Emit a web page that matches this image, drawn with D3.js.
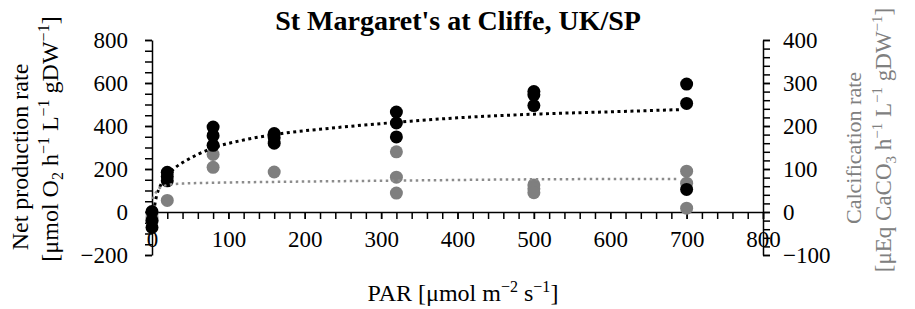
<!DOCTYPE html>
<html>
<head>
<meta charset="utf-8">
<script src="https://cdn.jsdelivr.net/npm/d3@7"></script>
<style>
body { margin: 0; background: #fff; }
svg, svg text { font-family: "Liberation Serif", "Times New Roman", serif; }
.axis path, .axis line { stroke: #000; stroke-width: 1.5; }
.axis text { font-family: "Liberation Serif", "Times New Roman", serif !important; font-size: 23px; fill: #000; }
</style>
</head>
<body>
<script>
const width = 915;
const height = 309;

const par = [0, 20, 80, 160, 320, 500, 700];
const netProd = [ // left axis, black
	[-72, -40, 2],
	[185, 165, 145],
	[395, 355, 310],
	[365, 345, 320],
	[465, 414, 349],
	[560, 545, 495],
	[595, 505, 105]
];
const calc = [ // right axis, grey
	[-22, -14, -4],
	[27],
	[134, 104],
	[93],
	[140, 81, 44],
	[63, 54, 45],
	[95, 67, 9]
];

// dotted trend lines
const netTrendX = [1, 3, 6, 10, 15, 20, 30, 45, 60, 80, 120, 160, 240, 320, 400, 500, 600, 690];
const netTrendY = [-30, 20, 75, 115, 150, 170, 205, 240, 268, 298, 335, 360, 392, 417, 438, 455, 466, 476];
const calcTrendX = [1, 5, 8, 13, 20, 40, 80, 160, 320, 500, 690];
const calcTrendY = [30, 45, 53, 58, 63, 66, 68, 70, 73, 76, 77];

const xTicks = [0, 100, 200, 300, 400, 500, 600, 700, 800];
const yLeftTicks = [-200, 0, 200, 400, 600, 800];
const yRightTicks = [-100, 0, 100, 200, 300, 400];

const svg = d3.select("body").append("svg")
	.attr("width", width)
	.attr("height", height);

let x = d3.scaleLinear().domain([0, 800]).range([152, 763]);
let yL = d3.scaleLinear().domain([-200, 800]).range([255, 40]);
let yR = d3.scaleLinear().domain([-100, 400]).range([255, 40]);

let fmt = d => d < 0 ? "\u2212" + Math.abs(d) : d;

function styleAxis(g) {
	g.attr("font-family", null).attr("font-size", null);
	g.selectAll("text")
		.style("font-family", "'Liberation Serif', 'Times New Roman', serif")
		.style("font-size", "23px")
		.attr("fill", "#000");
}

// left axis
svg.append("g").attr("class", "axis")
	.attr("transform", "translate(152,0)")
	.call(d3.axisLeft(yL).tickValues(d3.range(-200, 801, 50)).tickSize(7).tickSizeOuter(0).tickFormat(""));
svg.append("g").attr("class", "axis")
	.attr("transform", "translate(152,0)")
	.call(d3.axisLeft(yL).tickValues(yLeftTicks).tickSize(7).tickSizeOuter(0).tickPadding(17).tickFormat(fmt))
	.call(styleAxis)
	.select(".domain").remove();

// right axis
svg.append("g").attr("class", "axis")
	.attr("transform", "translate(763,0)")
	.call(d3.axisRight(yR).tickValues(d3.range(-100, 401, 20)).tickSize(7).tickSizeOuter(0).tickFormat(""));
svg.append("g").attr("class", "axis")
	.attr("transform", "translate(763,0)")
	.call(d3.axisRight(yR).tickValues(yRightTicks).tickSize(7).tickSizeOuter(0).tickPadding(13).tickFormat(fmt))
	.call(styleAxis)
	.select(".domain").remove();

// x axis sits on zero
svg.append("g").attr("class", "axis")
	.attr("transform", "translate(0," + yL(0) + ")")
	.call(d3.axisBottom(x).tickValues(d3.range(0, 801, 20)).tickSize(7).tickSizeOuter(0).tickFormat(""));
svg.append("g").attr("class", "axis")
	.attr("transform", "translate(0," + yL(0) + ")")
	.call(d3.axisBottom(x).tickValues(xTicks).tickSize(7).tickSizeOuter(0).tickPadding(12))
	.call(styleAxis)
	.select(".domain").remove();

// points
let calcPts = [];
calc.forEach((vals, i) => vals.forEach(v => calcPts.push([par[i], v])));
let netPts = [];
netProd.forEach((vals, i) => vals.forEach(v => netPts.push([par[i], v])));

svg.append("g").selectAll("circle")
	.data(calcPts).enter().append("circle")
	.attr("cx", d => x(d[0]))
	.attr("cy", d => yR(d[1]))
	.attr("r", 6.5)
	.attr("fill", "#7f7f7f");

svg.append("g").selectAll("circle")
	.data(netPts).enter().append("circle")
	.attr("cx", d => x(d[0]))
	.attr("cy", d => yL(d[1]))
	.attr("r", 6.5)
	.attr("fill", "#000");

// trend lines
let line = d3.line().curve(d3.curveMonotoneX);
svg.append("path")
	.attr("d", line(netTrendX.map((v, i) => [x(v), yL(netTrendY[i])])))
	.attr("fill", "none")
	.attr("stroke", "#000")
	.attr("stroke-width", 3)
	.attr("stroke-dasharray", "3,3.5");
svg.append("path")
	.attr("d", line(calcTrendX.map((v, i) => [x(v), yR(calcTrendY[i])])))
	.attr("fill", "none")
	.attr("stroke", "#8c8c8c")
	.attr("stroke-width", 2.5)
	.attr("stroke-dasharray", "2.5,3.5");

// title
svg.append("text")
	.attr("x", 458).attr("y", 30)
	.attr("text-anchor", "middle")
	.style("font-size", "28px").style("font-weight", "bold")
	.text("St Margaret's at Cliffe, UK/SP");

// x title
let xt = svg.append("text")
	.attr("x", 463).attr("y", 301)
	.attr("text-anchor", "middle")
	.style("font-size", "24px");
xt.append("tspan").text("PAR [\u03bcmol m");
xt.append("tspan").attr("dy", -9).style("font-size", "16px").text("\u22122");
xt.append("tspan").attr("dy", 9).text(" s");
xt.append("tspan").attr("dy", -9).style("font-size", "16px").text("\u22121");
xt.append("tspan").attr("dy", 9).text("]");

function unitLabel(t, parts) {
	parts.forEach(p => {
		let s = t.append("tspan").text(p[0]);
		if (p[1]) s.attr("dy", p[1]);
		if (p[2]) s.style("font-size", p[2]);
	});
}

// left y title
svg.append("text")
	.attr("transform", "translate(28,157) rotate(-90)")
	.attr("text-anchor", "middle")
	.style("font-size", "24px")
	.text("Net production rate");
unitLabel(svg.append("text")
	.attr("transform", "translate(58,139) rotate(-90)")
	.attr("text-anchor", "middle")
	.style("font-size", "24px"),
	[["[\u03bcmol O"], ["2", 5, "16px"], [" h", -5], ["\u22121", -9, "16px"], [" L", 9],
	 ["\u22121", -9, "16px"], [" gDW", 9], ["\u22121", -9, "16px"], ["]", 9]]);

// right y title
svg.append("text")
	.attr("transform", "translate(861,148) rotate(-90)")
	.attr("text-anchor", "middle")
	.style("font-size", "22px").style("fill", "#808080")
	.text("Calcification rate");
unitLabel(svg.append("text")
	.attr("transform", "translate(891,140) rotate(-90)")
	.attr("text-anchor", "middle")
	.style("font-size", "23px").style("fill", "#808080"),
	[["[\u03bcEq CaCO"], ["3", 5, "15px"], [" h", -5], ["\u22121", -9, "15px"], [" L", 9],
	 ["\u22121", -9, "15px"], [" gDW", 9], ["\u22121", -9, "15px"], ["]", 9]]);
</script>
</body>
</html>
